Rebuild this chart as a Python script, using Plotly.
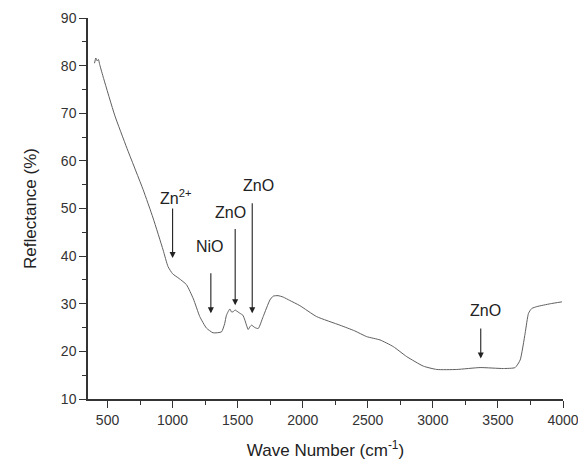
import plotly.graph_objects as go

# Data
wavenumber = [400, 410, 420, 430, 440, 470, 555, 650, 773, 850, 927, 965, 1000, 1050,
              1107, 1160, 1209, 1260, 1311, 1376, 1400, 1414, 1440, 1452, 1465, 1480,
              1491, 1517, 1540, 1555, 1581, 1595, 1607, 1632, 1658, 1696, 1748, 1773,
              1810, 1850, 1900, 1978, 2107, 2286, 2400, 2491, 2594, 2696, 2799, 2927,
              3030, 3184, 3363, 3542, 3632, 3671, 3709, 3735, 3760, 3799, 3902, 3992]
reflectance = [80.5, 81.6, 81.0, 81.3, 80.2, 77.3, 69.6, 62.6, 54.0, 48.0, 41.3, 37.8,
               36.3, 35.3, 34.0, 31.0, 27.3, 24.9, 23.9, 24.1, 25.8, 27.6, 28.9, 28.3,
               28.3, 28.7, 28.5, 28.0, 27.6, 26.6, 24.6, 25.2, 25.5, 25.0, 24.8, 27.3,
               30.8, 31.6, 31.7, 31.4, 30.7, 29.6, 27.3, 25.5, 24.3, 23.1, 22.4, 21.0,
               18.9, 16.9, 16.2, 16.2, 16.6, 16.4, 16.6, 18.2, 23.8, 28.0, 29.0, 29.4,
               30.0, 30.4]

# Peak annotations: label, label position, arrow x, arrow tail y, arrow tip y
peak_labels = ["Zn<sup>2+</sup>", "NiO", "ZnO", "ZnO", "ZnO"]
label_x = [1025, 1286, 1444, 1663, 3401]
label_y = [52.4, 42.1, 49.2, 54.8, 28.5]
arrow_x = [1000, 1294, 1481, 1612, 3368]
arrow_tail_y = [50.3, 36.7, 46.0, 51.4, 25.1]
arrow_tip_y = [39.6, 28.0, 29.7, 28.0, 18.5]

y_ticks = [10, 20, 30, 40, 50, 60, 70, 80, 90]
x_ticks = [500, 1000, 1500, 2000, 2500, 3000, 3500, 4000]

FONT = "Liberation Sans, Arial, sans-serif"

fig = go.Figure()
fig.add_trace(go.Scatter(
    x=wavenumber, y=reflectance, mode="lines",
    line=dict(color="#5f5f5f", width=1, shape="spline", smoothing=0.5),
    showlegend=False, hoverinfo="skip"))

annotations = []
for lab, lx, ly in zip(peak_labels, label_x, label_y):
    annotations.append(dict(x=lx, y=ly, xref="x", yref="y", text=lab, showarrow=False,
                            font=dict(family=FONT, size=16, color="#222222"),
                            xanchor="center", yanchor="middle"))
for ax_, ty, hy in zip(arrow_x, arrow_tail_y, arrow_tip_y):
    annotations.append(dict(x=ax_, y=hy, ax=ax_, ay=ty, xref="x", yref="y",
                            axref="x", ayref="y", text="", showarrow=True,
                            arrowhead=2, arrowsize=1.1, arrowwidth=1.1,
                            arrowcolor="#222222", standoff=0))

fig.update_layout(
    width=578, height=458,
    margin=dict(l=80, r=23, t=10, b=67),
    paper_bgcolor="white", plot_bgcolor="white",
    font=dict(family=FONT, size=14, color="#333333"),
    annotations=annotations,
    xaxis=dict(range=[350, 4000], tickvals=x_ticks, ticks="outside", ticklen=7,
               tickwidth=1.3, tickcolor="#333333", showline=True, linecolor="#333333",
               linewidth=1.5, showgrid=False, zeroline=False, automargin=False,
               minor=dict(ticks="outside", ticklen=4, dtick=250, tick0=250,
                          tickcolor="#333333", tickwidth=1.2),
               title=dict(text="Wave Number (cm<sup>-1</sup>)",
                          font=dict(family=FONT, size=17, color="#222222"), standoff=18),
               tickfont=dict(size=14)),
    yaxis=dict(range=[10, 90], tickvals=y_ticks, ticks="outside", ticklen=7,
               tickwidth=1.3, tickcolor="#333333", showline=True, linecolor="#333333",
               linewidth=1.5, showgrid=False, zeroline=False, automargin=False,
               minor=dict(ticks="outside", ticklen=4, dtick=5, tick0=5,
                          tickcolor="#333333", tickwidth=1.2),
               title=dict(text="Reflectance (%)",
                          font=dict(family=FONT, size=17, color="#222222"), standoff=20),
               tickfont=dict(size=14)),
)

fig.write_html("out.html")
